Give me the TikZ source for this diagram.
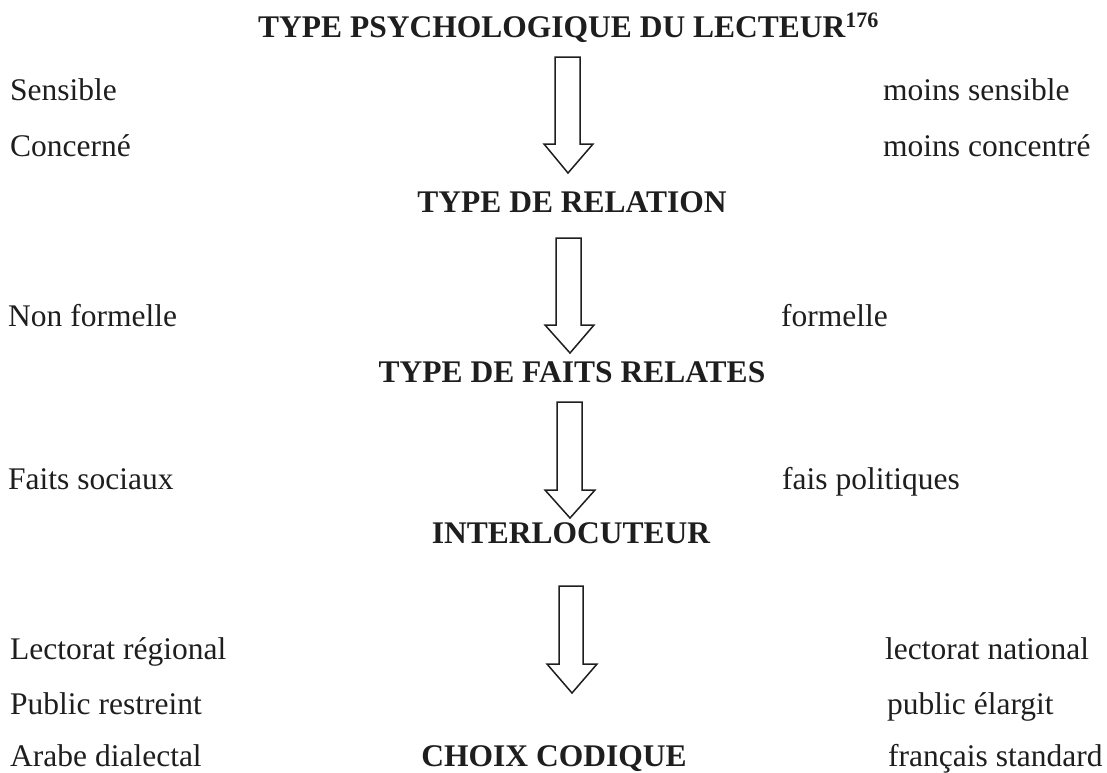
\documentclass[tikz,border=0pt]{standalone}
\usepackage{fontspec}
\setmainfont{Liberation Serif}
\definecolor{ink}{HTML}{1E1E1E}
\tikzset{
  x=1pt, y=-1pt,
  lab/.style={anchor=base west, inner sep=0pt, text=ink, font=\fontsize{31.5}{36}\selectfont},
  head/.style={anchor=base, inner sep=0pt, text=ink, font=\fontsize{31.5}{36}\selectfont\bfseries},
  blockarrow/.style={draw=ink, line width=1.5pt, fill=white, line join=miter}
}
\begin{document}
\begin{tikzpicture}
\useasboundingbox (0,0) rectangle (1107,772);
% headings
\node[head, anchor=base west] (h1) at (258,37) {TYPE PSYCHOLOGIQUE DU LECTEUR\textsuperscript{176}};
\node[head] (h2) at (572,212) {TYPE DE RELATION};
\node[head] (h3) at (572,382) {TYPE DE FAITS RELATES};
\node[head] (h4) at (571,543) {INTERLOCUTEUR};
\node[head] (h5) at (554,766) {CHOIX CODIQUE};
% left column
\node[lab] (l1) at (10,100) {Sensible};
\node[lab] (l2) at (10,156) {Concerné};
\node[lab] (l3) at (8,326) {Non formelle};
\node[lab] (l4) at (8,489) {Faits sociaux};
\node[lab] (l5) at (10,659) {Lectorat régional};
\node[lab] (l6) at (10,714) {Public restreint};
\node[lab] (l7) at (10,766) {Arabe dialectal};
% right column
\node[lab] (r1) at (883,100) {moins sensible};
\node[lab] (r2) at (883,156) {moins concentré};
\node[lab] (r3) at (781,326) {formelle};
\node[lab] (r4) at (782,489) {fais politiques};
\node[lab] (r5) at (885,659) {lectorat national};
\node[lab] (r6) at (887,714) {public élargit};
\node[lab] (r7) at (888,766) {français standard};
% block arrows
\draw[blockarrow] (555,57) -- (580,57) -- (580,144) -- (593,144) -- (568,173) -- (544,144) -- (555,144) -- cycle;
\draw[blockarrow] (556,238) -- (581,238) -- (581,325) -- (594,325) -- (570,353) -- (545,325) -- (556,325) -- cycle;
\draw[blockarrow] (557,402) -- (582,402) -- (582,490) -- (595,490) -- (570,518) -- (545,490) -- (557,490) -- cycle;
\draw[blockarrow] (559,586) -- (583,586) -- (583,664) -- (597,664) -- (572,693) -- (547,664) -- (559,664) -- cycle;
\end{tikzpicture}
\end{document}
